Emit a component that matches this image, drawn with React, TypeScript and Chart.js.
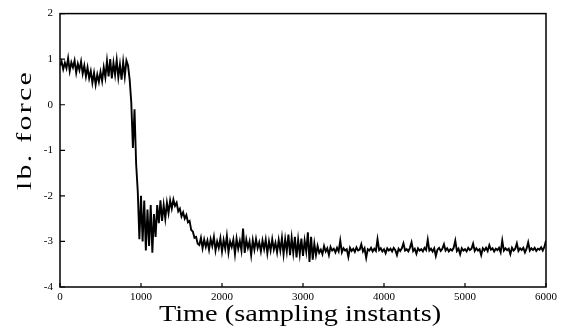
import React, { useEffect, useRef } from "react";
import { Chart, registerables } from "chart.js";

Chart.register(...registerables);

const STEP = 20; // sampling-instant spacing of the read-off points

// t = 0 .. 840
const forceStart = [
  0.86, 0.95, 0.78, 0.92, 0.80, 1.02, 0.74, 0.93, 0.82, 0.97,
  0.70, 0.90, 0.76, 0.95, 0.68, 0.86, 0.62, 0.82, 0.58, 0.74,
  0.48, 0.70, 0.44, 0.66, 0.50, 0.72, 0.52, 0.82, 0.60, 0.96,
  0.62, 1.00, 0.58, 0.92, 0.66, 0.98, 0.60, 0.88, 0.55, 0.94,
  0.62, 0.97, 0.86,
];

// t = 860 .. 1700
const forceDrop = [
  0.55, 0.05, -0.95, -0.1, -1.3, -1.9, -2.95, -2.0, -3.0, -2.1,
  -3.2, -2.3, -3.1, -2.2, -3.25, -2.4, -2.9, -2.2, -2.6, -2.1,
  -2.55, -2.2, -2.5, -2.15, -2.38, -2.1, -2.28, -2.08, -2.22, -2.15,
  -2.34, -2.28, -2.45, -2.36, -2.5, -2.42, -2.58, -2.55, -2.75, -2.78,
  -2.92, -2.9, -3.05,
];

// t = 1720 .. 3200
const forceSettle = [
  -3.08, -2.92, -3.15, -2.96, -3.12, -2.98, -3.18, -2.95, -3.10, -2.90,
  -3.20, -3.00, -3.14, -2.93, -3.22, -2.97, -3.16, -2.88, -3.24, -3.00,
  -3.12, -2.96, -3.28, -2.94, -3.16, -2.99, -3.20, -2.72, -3.25, -2.96,
  -3.14, -3.00, -3.30, -2.97, -3.18, -2.95, -3.15, -3.02, -3.22, -2.98,
  -3.17, -2.96, -3.26, -3.00, -3.20, -2.95, -3.18, -3.03, -3.24, -2.97,
  -3.20, -2.92, -3.28, -2.95, -3.22, -2.85, -3.30, -2.92, -3.25, -2.90,
  -3.35, -2.96, -3.28, -2.94, -3.32, -2.98, -3.22, -2.80, -3.45, -2.90,
  -3.40, -3.05, -3.30, -3.10, -3.25,
];

// t = 3220 .. 6000
const forceSteady = [
  -3.18, -3.28, -3.10, -3.22, -3.15, -3.30, -3.12, -3.20, -3.16, -3.24,
  -3.14, -3.22, -2.98, -3.24, -3.15, -3.20, -3.17, -3.34, -3.14, -3.21,
  -3.16, -3.23, -3.13, -3.20, -3.18, -3.06, -3.22, -3.15, -3.36, -3.17,
  -3.20, -3.14, -3.22, -3.16, -3.21, -2.95, -3.19, -3.15, -3.22, -3.17,
  -3.26, -3.15, -3.20, -3.16, -3.22, -3.14, -3.19, -3.30, -3.16, -3.21,
  -3.15, -3.04, -3.20, -3.17, -3.22, -3.14, -3.02, -3.21, -3.16, -3.27,
  -3.15, -3.20, -3.17, -3.22, -3.14, -3.19, -2.96, -3.20, -3.16, -3.22,
  -3.15, -3.32, -3.18, -3.14, -3.21, -3.16, -3.06, -3.20, -3.15, -3.22,
  -3.17, -3.20, -3.14, -2.98, -3.21, -3.16, -3.28, -3.15, -3.20, -3.17,
  -3.22, -3.14, -3.19, -3.16, -3.05, -3.21, -3.15, -3.20, -3.17, -3.30,
  -3.15, -3.20, -3.14, -3.21, -3.08, -3.18, -3.15, -3.22, -3.16, -3.19,
  -3.14, -3.24, -2.98, -3.20, -3.15, -3.19, -3.16, -3.28, -3.14, -3.20,
  -3.16, -3.04, -3.21, -3.15, -3.19, -3.14, -3.24, -3.16, -3.02, -3.20,
  -3.15, -3.19, -3.14, -3.21, -3.16, -3.18, -3.13, -3.20, -3.12, -2.98,
];

const X_TICKS = [0, 1000, 2000, 3000, 4000, 5000, 6000];
const Y_TICKS = [-4, -3, -2, -1, 0, 1, 2];
const X_TITLE = "Time (sampling instants)";
const Y_TITLE = "lb. force";

const FONT = "'Liberation Serif', 'DejaVu Serif', serif";

const frameAndTitles = {
  id: "frameAndTitles",
  afterDatasetsDraw(chart: any) {
    const { ctx, chartArea } = chart;
    const { left, right, top, bottom } = chartArea;
    ctx.save();
    ctx.strokeStyle = "#000";
    ctx.lineWidth = 1.5;
    ctx.strokeRect(left, top, right - left, bottom - top);
    ctx.lineWidth = 1.2;
    const xs = chart.scales.x;
    const ys = chart.scales.y;
    ctx.beginPath();
    for (const t of xs.ticks) {
      const px = xs.getPixelForValue(t.value);
      ctx.moveTo(px, bottom);
      ctx.lineTo(px, bottom - 4);
    }
    for (const t of ys.ticks) {
      const py = ys.getPixelForValue(t.value);
      ctx.moveTo(left, py);
      ctx.lineTo(left + 5, py);
    }
    ctx.stroke();

    // x title
    ctx.fillStyle = "#000";
    ctx.font = `24px ${FONT}`;
    ctx.textAlign = "center";
    ctx.textBaseline = "alphabetic";
    ctx.save();
    ctx.translate(300, 321);
    ctx.scale(1.18, 1);
    ctx.fillText(X_TITLE, 0, 0);
    ctx.restore();

    // y title
    ctx.save();
    ctx.translate(31, 130);
    ctx.rotate(-Math.PI / 2);
    ctx.scale(1.5, 1);
    ctx.font = `20px ${FONT}`;
    (ctx as any).letterSpacing = "1.5px";
    ctx.fillText(Y_TITLE, 0, 0);
    ctx.restore();
    ctx.restore();
  },
};

export default function App() {
  const ref = useRef<HTMLCanvasElement | null>(null);

  useEffect(() => {
    document.body.style.margin = "0";
    const values = [...forceStart, ...forceDrop, ...forceSettle, ...forceSteady];
    const points = values.map((v, i) => ({ x: i * STEP, y: v }));
    const chart = new Chart(ref.current as HTMLCanvasElement, {
      type: "line",
      data: {
        datasets: [
          {
            data: points,
            borderColor: "#000",
            borderWidth: 1.9,
            pointRadius: 0,
            tension: 0,
            fill: false,
          },
        ],
      },
      options: {
        animation: false,
        responsive: false,
        maintainAspectRatio: false,
        parsing: false,
        layout: { padding: { top: 9, right: 14, left: 0, bottom: 0 } },
        plugins: { legend: { display: false }, tooltip: { enabled: false } },
        scales: {
          x: {
            type: "linear",
            min: 0,
            max: 6000,
            afterBuildTicks: (s: any) => {
              s.ticks = X_TICKS.map((v) => ({ value: v }));
            },
            afterFit: (s: any) => {
              s.height = 43;
            },
            grid: { display: false, drawTicks: false },
            border: { display: false },
            ticks: {
              color: "#000",
              font: { family: FONT, size: 11 },
              padding: 4,
              maxRotation: 0,
              autoSkip: false,
              callback: (v: any) => String(v),
            },
          },
          y: {
            type: "linear",
            min: -4,
            max: 2,
            afterBuildTicks: (s: any) => {
              s.ticks = Y_TICKS.map((v) => ({ value: v }));
            },
            afterFit: (s: any) => {
              s.width = 60;
            },
            grid: { display: false, drawTicks: false },
            border: { display: false },
            ticks: {
              color: "#000",
              font: { family: FONT, size: 11 },
              padding: 7,
              autoSkip: false,
              callback: (v: any) => String(v),
            },
          },
        },
      },
      plugins: [frameAndTitles],
    });
    return () => chart.destroy();
  }, []);

  return <canvas ref={ref} width={561} height={330} style={{ display: "block" }} />;
}
